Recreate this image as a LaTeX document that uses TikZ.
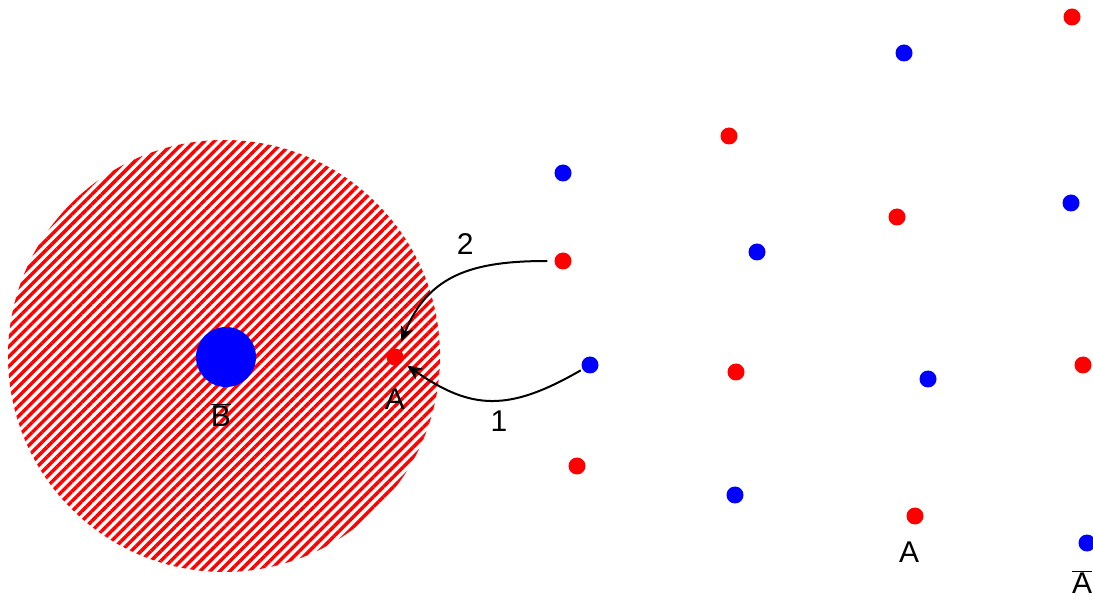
\documentclass[tikz,border=0pt]{standalone}
\usepackage{fontspec}
\setmainfont{Liberation Sans}
\usetikzlibrary{arrows.meta,patterns.meta,positioning}
\tikzset{
  dot/.style={circle,fill,minimum size=17pt,inner sep=0pt},
  lbl/.style={font=\fontsize{30}{32}\selectfont,inner sep=1pt},
  hop/.style={->,>={Stealth[length=15pt,width=13pt,inset=4.5pt]},line width=2pt},
}

\begin{document}
\begin{tikzpicture}[x=1pt,y=1pt]
\useasboundingbox (0,0) rectangle (1093,603);
% hatched region
\fill[pattern={Lines[angle=45,distance=7pt,line width=3.4pt]},pattern color=red] (224,247) circle (216);
\node[circle,fill=blue,minimum size=60pt,inner sep=0pt] (Bb) at (226,246) {};
\node[lbl,below=15pt of Bb,xshift=-5pt] (Bblbl) {$\overline{\mbox{B}}$};
% red sites
\node[dot,red] (A0) at (395,246) {};
\node[lbl,below=22pt of A0] (A0lbl) {A};
\node[dot,red] (r1) at (563,342) {};
\node[dot,red] (r2) at (577,137) {};
\node[dot,red] (r3) at (729,467) {};
\node[dot,red] (r4) at (736,231) {};
\node[dot,red] (r5) at (897,386) {};
\node[dot,red] (r6) at (915,87) {};
\node[dot,red] (r7) at (1072,586) {};
\node[dot,red] (r8) at (1083,238) {};
\node[lbl,below=16pt of r6,xshift=-6pt] (r6lbl) {A};
% blue sites
\node[dot,blue] (b1) at (563,430) {};
\node[dot,blue] (b2) at (590,238) {};
\node[dot,blue] (b3) at (735,108) {};
\node[dot,blue] (b4) at (757,351) {};
\node[dot,blue] (b5) at (904,550) {};
\node[dot,blue] (b6) at (928,224) {};
\node[dot,blue] (b7) at (1071,400) {};
\node[dot,blue] (b8) at (1087,60) {};
\node[lbl,below=18pt of b8,xshift=-5pt] (b8lbl) {$\overline{\mbox{A}}$};
% hops
\draw[hop,shorten <=7pt,shorten >=8pt] (r1) to[out=180,in=68,looseness=1.15]
  node[lbl,pos=0.4,above=14pt,xshift=-8pt] {2} (A0);
\draw[hop,shorten <=2pt,shorten >=6pt] (b2) to[out=210,in=-35,looseness=1.2]
  node[lbl,pos=0.45,below=9pt] {1} (A0);
\end{tikzpicture}
\end{document}
